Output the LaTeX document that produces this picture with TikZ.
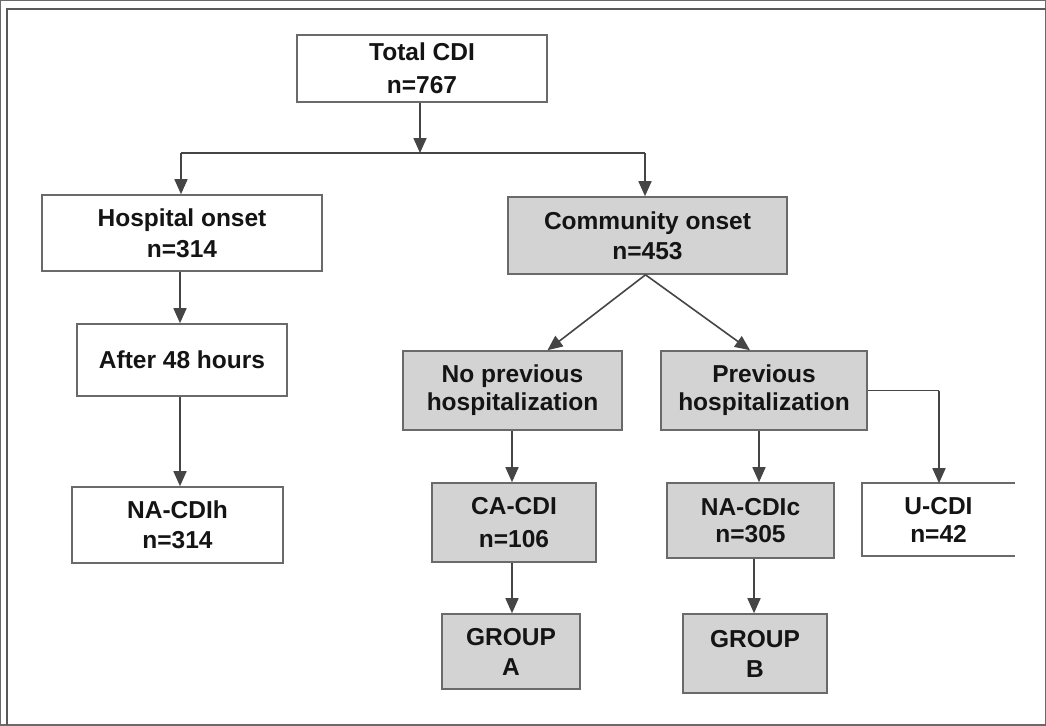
\documentclass[tikz,border=0pt]{standalone}
\usepackage{fontspec}
\setmainfont{Liberation Sans}
\usetikzlibrary{arrows.meta}
\definecolor{boxgray}{HTML}{D3D3D3}
\definecolor{edgegray}{HTML}{6A6A6A}
\definecolor{linegray}{HTML}{454545}
\definecolor{framegray}{HTML}{5A5A5A}
\tikzset{
  box/.style={draw=edgegray, line width=1.6pt, align=center, inner sep=0pt,
    font=\fontsize{24.5}{31}\selectfont\bfseries, text=black!92},
  grey/.style={box, fill=boxgray},
  white/.style={box, fill=white},
  conn/.style={draw=linegray, line width=1.6pt},
  arr/.style={conn, -{Triangle[length=15pt,width=13pt]}},
}
\begin{document}
\begin{tikzpicture}[x=1pt,y=-1pt]
\useasboundingbox (0,0) rectangle (1046,725);
\fill[white] (0,0) rectangle (1046,725);
% frame
\draw[framegray, line width=2.5pt] (7,725) -- (7,9) -- (1046,9);

% nodes
\node[white, minimum width=250pt, minimum height=67pt, font=\fontsize{24.5}{33}\selectfont\bfseries] (total) at (422,68.5) {Total CDI\\n=767};
\node[white, minimum width=280pt, minimum height=76pt] (hosp) at (182,233) {Hospital onset\\n=314};
\node[grey, minimum width=279pt, minimum height=77pt, font=\fontsize{24.5}{30}\selectfont\bfseries] (comm) at (647.5,235.5) {Community onset\\n=453};
\node[white, minimum width=210pt, minimum height=72pt] (after) at (182,360) {After 48 hours};
\node[white, minimum width=211pt, minimum height=76pt, font=\fontsize{24.5}{30}\selectfont\bfseries] (nah) at (177.5,525) {NA-CDIh\\n=314};
\node[grey, minimum width=219pt, minimum height=79pt, font=\fontsize{24.5}{28}\selectfont\bfseries] (noprev) at (512.5,390.5) {No previous\\hospitalization};
\node[grey, minimum width=206pt, minimum height=79pt, font=\fontsize{24.5}{28}\selectfont\bfseries] (prev) at (764,390.5) {Previous\\hospitalization};
\node[grey, minimum width=164pt, minimum height=79pt, font=\fontsize{24.5}{33}\selectfont\bfseries] (ca) at (514,522.5) {CA-CDI\\n=106};
\node[grey, minimum width=167pt, minimum height=75pt, font=\fontsize{24.5}{27}\selectfont\bfseries] (nac) at (750.5,520.5) {NA-CDIc\\n=305};
\node[box, draw=none, minimum width=151pt, minimum height=71pt, font=\fontsize{24.5}{28}\selectfont\bfseries] (ucdi) at (938.5,519.5) {U-CDI\\n=42};
\draw[edgegray, line width=1.6pt] (ucdi.north east) -- (ucdi.north west) -- (ucdi.south west) -- (ucdi.south east);
\node[grey, minimum width=138pt, minimum height=75pt, font=\fontsize{24.5}{30}\selectfont\bfseries] (ga) at (511,651.5) {GROUP\\A};
\node[grey, minimum width=144pt, minimum height=79pt, font=\fontsize{24.5}{30}\selectfont\bfseries] (gb) at (755,653.5) {GROUP\\B};

% connectors
\coordinate (split) at (420,153);
\coordinate (lsplit) at (181,153);
\coordinate (rsplit) at (645,153);
\draw[arr] (total.south -| split) -- (split);
\draw[conn] (lsplit) -- (rsplit);
\draw[arr] (lsplit) -- (lsplit |- hosp.north);
\draw[arr] (rsplit) -- (rsplit |- comm.north);

\coordinate (hx) at (180,0);
\draw[arr] (hosp.south -| hx) -- (after.north -| hx);
\draw[arr] (after.south -| hx) -- (nah.north -| hx);

\coordinate (cbot) at ([xshift=-2pt]comm.south);
\draw[arr] (cbot) -- ([xshift=35pt]noprev.north);
\draw[arr] (cbot) -- ([xshift=-14pt]prev.north);

\coordinate (ux) at (939,0);
\draw[conn] (prev.east) -- (prev.east -| ux);
\draw[arr] (prev.east -| ux) -- (ucdi.north -| ux);

\coordinate (ax) at (512,0);
\draw[arr] (noprev.south -| ax) -- (ca.north -| ax);
\draw[arr] (ca.south -| ax) -- (ga.north -| ax);

\coordinate (bx) at (759,0);
\draw[arr] (prev.south -| bx) -- (nac.north -| bx);
\coordinate (cx) at (754,0);
\draw[arr] (nac.south -| cx) -- (gb.north -| cx);
\end{tikzpicture}
\end{document}
